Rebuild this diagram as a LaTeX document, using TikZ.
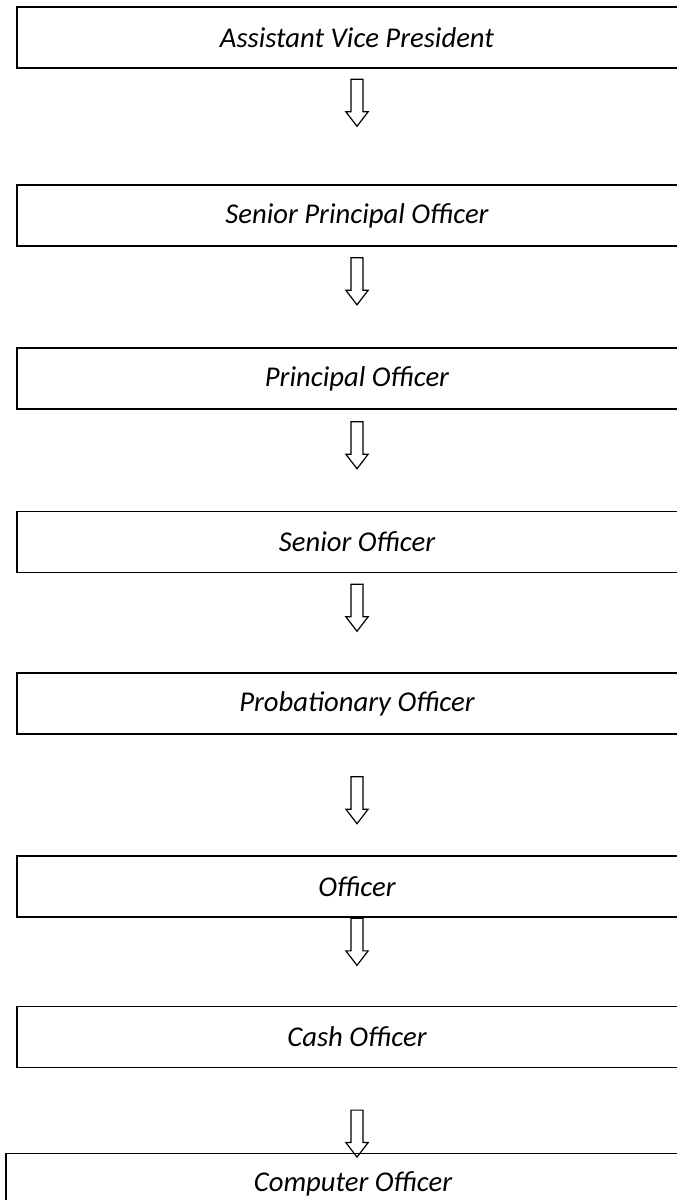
\documentclass[tikz,border=0pt]{standalone}
\usepackage{fontspec}
\setmainfont{Carlito}
\usetikzlibrary{shapes.arrows}

\tikzstyle{rank} = [draw, rectangle, line width=1.4pt, minimum height=45.75pt, minimum width=510pt, font=\fontsize{21.5}{25}\selectfont\itshape]
\tikzstyle{darrow} = [draw, single arrow, shape border rotate=270, line width=0.9pt, minimum height=35.25pt, inner sep=4.1pt, single arrow head extend=3.8pt, single arrow tip angle=75]

\begin{document}
\begin{tikzpicture}[node distance=1cm]
  \useasboundingbox (0,0) rectangle (507.75pt,-900pt);
  \clip (0,0) rectangle (507.75pt,-900pt);

  \node [rank] (avp) at (267.75pt,-28.125pt) {Assistant Vice President};
  \node [darrow, below of=avp, node distance=46pt] (a1) {};

  \node [rank, below of=avp, node distance=133.5pt] (spo) {Senior Principal Officer};
  \node [darrow, below of=spo, node distance=46.4pt] (a2) {};

  \node [rank, below of=spo, node distance=122.25pt] (po) {Principal Officer};
  \node [darrow, below of=po, node distance=47.1pt] (a3) {};

  \node [rank, below of=po, node distance=122.6pt] (so) {Senior Officer};
  \node [darrow, below of=so, node distance=46.4pt] (a4) {};

  \node [rank, below of=so, node distance=121.1pt] (prob) {Probationary Officer};
  \node [darrow, below of=prob, node distance=69.6pt] (a5) {};

  \node [rank, below of=prob, node distance=137.25pt] (off) {Officer};
  \node [darrow, below of=off, node distance=38.6pt] (a6) {};

  \node [rank, below of=off, node distance=112.9pt] (cash) {Cash Officer};
  \node [darrow, below of=cash, node distance=69.5pt] (a7) {};

  \node [rank, below of=cash, node distance=110.25pt, xshift=-3pt, minimum width=520.5pt] (comp) {Computer Officer};
\end{tikzpicture}
\end{document}
